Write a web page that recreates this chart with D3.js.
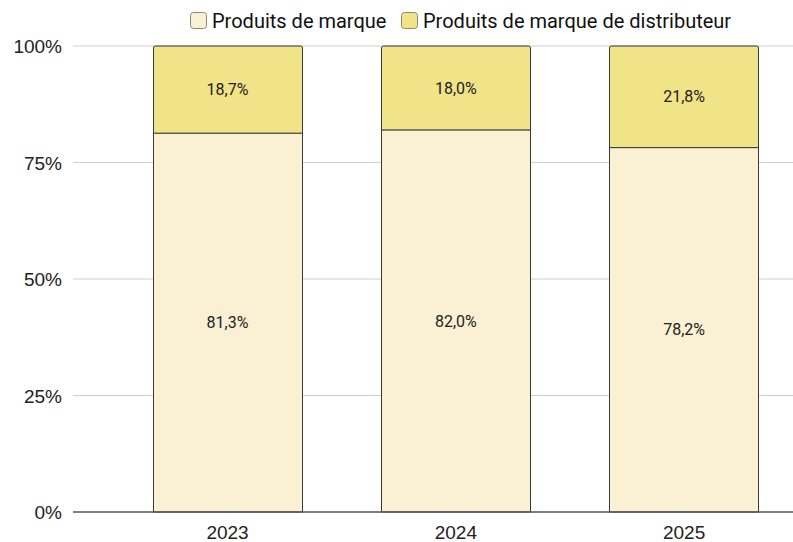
<!DOCTYPE html>
<html>
<head>
<meta charset="utf-8">
<script src="https://cdn.jsdelivr.net/npm/d3@7"></script>
<style>
  body { margin: 0; background: #fff; }
  svg { display: block; }
</style>
</head>
<body>
<svg id="chart" width="793" height="542"></svg>
<script>
// chart data
const years = ["2023", "2024", "2025"];
const seriesNames = ["Produits de marque", "Produits de marque de distributeur"];
const brandShare = [81.3, 82.0, 78.2];
const privateLabelShare = [18.7, 18.0, 21.8];
const yTicks = [0, 25, 50, 75, 100];

const colors = ["#faf0d3", "#f0e388"];

const plot = { left: 73, right: 793, top: 46, bottom: 512 };

const svg = d3.select("#chart");

const x = d3.scaleBand()
  .domain(years)
  .range([plot.left, plot.right])
  .paddingInner(0.346)
  .paddingOuter(0.25)
  .align(0.7);

const y = d3.scaleLinear().domain([0, 100]).range([plot.bottom, plot.top]);

// grid lines
svg.append("g")
  .selectAll("line")
  .data(yTicks.filter(d => d > 0))
  .enter()
  .append("line")
  .attr("x1", plot.left)
  .attr("x2", plot.right)
  .attr("y1", d => y(d))
  .attr("y2", d => y(d))
  .attr("stroke", "#cfcfcf")
  .attr("stroke-width", 1);

// y tick labels
svg.append("g")
  .selectAll("text")
  .data(yTicks)
  .enter()
  .append("text")
  .attr("x", plot.left - 11)
  .attr("y", d => y(d) + 7)
  .attr("text-anchor", "end")
  .style("font-family", "'Liberation Sans', Arial, sans-serif")
  .style("font-size", "19px")
  .style("fill", "#222")
  .text(d => d + "%");

// stacked data
const rows = years.map((yr, i) => ({ year: yr, brand: brandShare[i], pl: privateLabelShare[i] }));
const stack = d3.stack().keys(["brand", "pl"])(rows);

function barPath(x0, x1, y0, y1, r) {
  // rounded top corners only
  return `M${x0},${y0} L${x0},${y1 + r} Q${x0},${y1} ${x0 + r},${y1} L${x1 - r},${y1} Q${x1},${y1} ${x1},${y1 + r} L${x1},${y0} Z`;
}

const fmt = v => v.toFixed(1).replace(".", ",") + "%";

stack.forEach((layer, li) => {
  const g = svg.append("g");
  g.selectAll("path")
    .data(layer)
    .enter()
    .append("path")
    .attr("d", d => {
      const x0 = Math.round(x(d.data.year)) + 0.5;
      const x1 = x0 + Math.round(x.bandwidth());
      const r = li === 1 ? 2 : 0;
      return barPath(x0, x1, y(d[0]), y(d[1]), r);
    })
    .attr("fill", colors[li])
    .attr("stroke", "#3a3a3a")
    .attr("stroke-width", 1);

  g.selectAll("text")
    .data(layer)
    .enter()
    .append("text")
    .attr("x", d => x(d.data.year) + x.bandwidth() / 2)
    .attr("y", d => (y(d[0]) + y(d[1])) / 2)
    .attr("dy", "0.35em")
    .attr("text-anchor", "middle")
    .style("font-family", "Roboto, sans-serif")
    .style("font-size", "16px")
    .style("fill", "#222")
    .text(d => fmt(d[1] - d[0]));
});

// baseline
svg.append("line")
  .attr("x1", plot.left)
  .attr("x2", plot.right)
  .attr("y1", y(0))
  .attr("y2", y(0))
  .attr("stroke", "#555")
  .attr("stroke-width", 1.5);

// x labels
svg.append("g")
  .selectAll("text")
  .data(years)
  .enter()
  .append("text")
  .attr("x", d => x(d) + x.bandwidth() / 2)
  .attr("y", 539)
  .attr("text-anchor", "middle")
  .style("font-family", "'Liberation Sans', Arial, sans-serif")
  .style("font-size", "19px")
  .style("fill", "#222")
  .text(d => d);

// legend
const legendX = [190, 401];
const legend = svg.append("g");
seriesNames.forEach((name, i) => {
  legend.append("rect")
    .attr("x", legendX[i] + 0.5)
    .attr("y", 12.5)
    .attr("width", 16)
    .attr("height", 16)
    .attr("rx", 3)
    .attr("fill", colors[i])
    .attr("stroke", "#8a8a7a")
    .attr("stroke-width", 1);
  legend.append("text")
    .attr("x", legendX[i] + 22)
    .attr("y", 28)
    .style("font-family", "Roboto, sans-serif")
    .style("font-size", "20px")
    .style("fill", "#111")
    .text(name);
});
</script>
</body>
</html>
